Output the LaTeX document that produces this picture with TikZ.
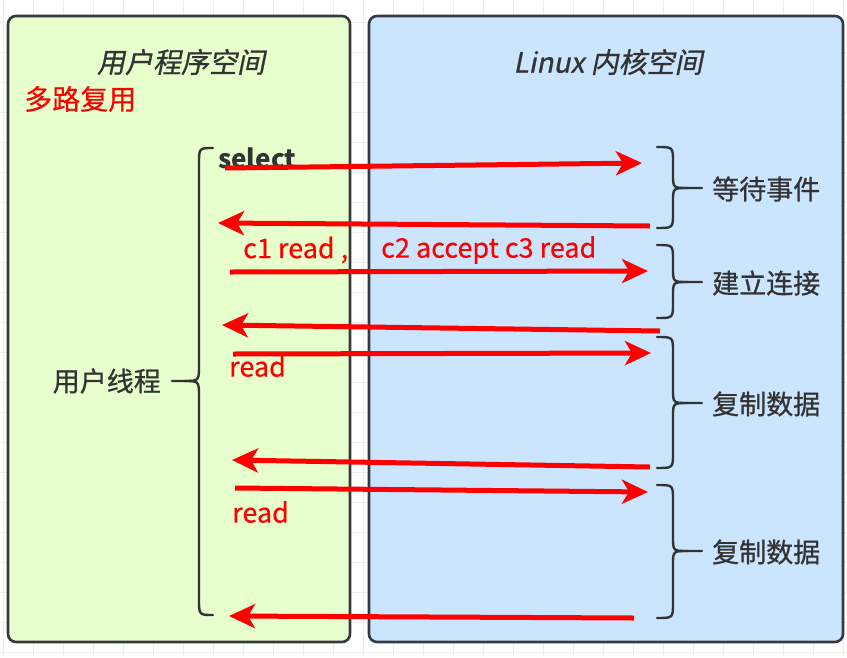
\documentclass[tikz,border=0pt]{standalone}
\usepackage{fontspec}
\setmainfont{Noto Sans CJK SC}
\newfontfamily\slantfont[FakeSlant=0.2,FakeBold=0.8]{Noto Sans CJK SC}
\newfontfamily\medfont[FakeBold=0.8]{Noto Sans CJK SC}
\newfontfamily\redfont[FakeBold=0.4]{Noto Sans CJK SC}
\usetikzlibrary{arrows.meta}
\definecolor{gridc}{HTML}{EDEDED}
\definecolor{usergreen}{HTML}{E6FFCC}
\definecolor{kernblue}{HTML}{CCE5FF}
\definecolor{edgec}{HTML}{36393D}
\definecolor{txt}{HTML}{333333}
\definecolor{arr}{HTML}{FF0000}
\begin{document}
\begin{tikzpicture}[x=1pt,y=-1pt,
  panel/.style={draw=edgec,line width=2.6pt,rounded corners=8pt},
  title/.style={inner sep=0pt,text=txt,font=\fontsize{28}{32}\slantfont},
  lab/.style={inner sep=0pt,text=txt,font=\fontsize{27}{32}\medfont},
  redlab/.style={inner sep=0pt,text=arr,font=\fontsize{27}{32}\redfont},
  brace/.style={draw=txt,line width=2.4pt,line cap=round},
  call/.style={draw=arr,line width=5pt,-{Stealth[length=26pt,width=24pt,inset=7pt]}}]
\useasboundingbox (0,0) rectangle (847,657);
\fill[white] (0,0) rectangle (847,657);
\foreach \i in {0,...,28} \draw[gridc,line width=1pt] ({3.5+30*\i},0) -- ({3.5+30*\i},657);
\foreach \j in {0,...,21} \draw[gridc,line width=1pt] (0,{22.5+30*\j}) -- (847,{22.5+30*\j});

% panels
\draw[panel,fill=usergreen] (8,16) rectangle (350,642);
\draw[panel,fill=kernblue] (369,16) rectangle (843,642);

% titles
\node[title] (tuser) at (181,62) {用户程序空间};
\node[title] (tkern) at (608,62) {Linux 内核空间};
\node[redlab,anchor=west,font=\fontsize{28}{32}\redfont] (mux) at (24,99) {多路复用};
\node[inner sep=0pt,anchor=west,text=txt,font=\fontsize{26}{32}\bfseries] (sel) at (218,158) {select};

% left brace
\coordinate (lbtop) at (213,148);
\coordinate (lbbot) at (213,615);
\coordinate (lbtip) at (172,381);
\draw[brace] (lbtop) .. controls (199,148) .. (199,164) -- (199,365)
  .. controls (199,381) .. (184,381) -- (lbtip);
\draw[brace] (184,381) .. controls (199,381) .. (199,397) -- (199,599)
  .. controls (199,615) .. (lbbot);
\node[lab,anchor=east] (uthread) at (161,381) {用户线程};

% right braces
\foreach \t/\m/\b/\nm/\txt in {147/188/228/e1/等待事件,245/282/318/e2/建立连接,337/403/468/e3/复制数据,485/551/618/e4/复制数据}{
  \draw[brace] (657,\t) .. controls (673,\t) .. (673,\t+15) -- (673,\m-14)
     .. controls (673,\m) .. (688,\m) -- (702,\m);
  \draw[brace] (688,\m) .. controls (673,\m) .. (673,\m+14) -- (673,\b-15)
     .. controls (673,\b) .. (657,\b);
  \node[lab,anchor=west] (\nm) at (712,\m+1) {\txt};
}

% arrow end points
\coordinate (a1s) at (225,168); \coordinate (a1e) at (642,163);
\coordinate (a2s) at (650,226); \coordinate (a2e) at (218,223);
\coordinate (a3s) at (230,272); \coordinate (a3e) at (648,271);
\coordinate (a4s) at (660,331); \coordinate (a4e) at (222,325);
\coordinate (a5s) at (233,354); \coordinate (a5e) at (651,353);
\coordinate (a6s) at (650,467); \coordinate (a6e) at (232,460);
\coordinate (a7s) at (235,488); \coordinate (a7e) at (648,492);
\coordinate (a8s) at (634,618); \coordinate (a8e) at (229,616);
\foreach \k in {1,...,8} \draw[call] (a\k s) -- (a\k e);

% red labels
\node[redlab,anchor=west] (l1) at (243,250) {c1 read ,};
\node[redlab,anchor=west] (l2) at (381,250) {c2 accept c3 read};
\node[redlab,anchor=west] (l3) at (229,366) {read};
\node[redlab,anchor=west] (l4) at (232,512) {read};
\end{tikzpicture}
\end{document}
